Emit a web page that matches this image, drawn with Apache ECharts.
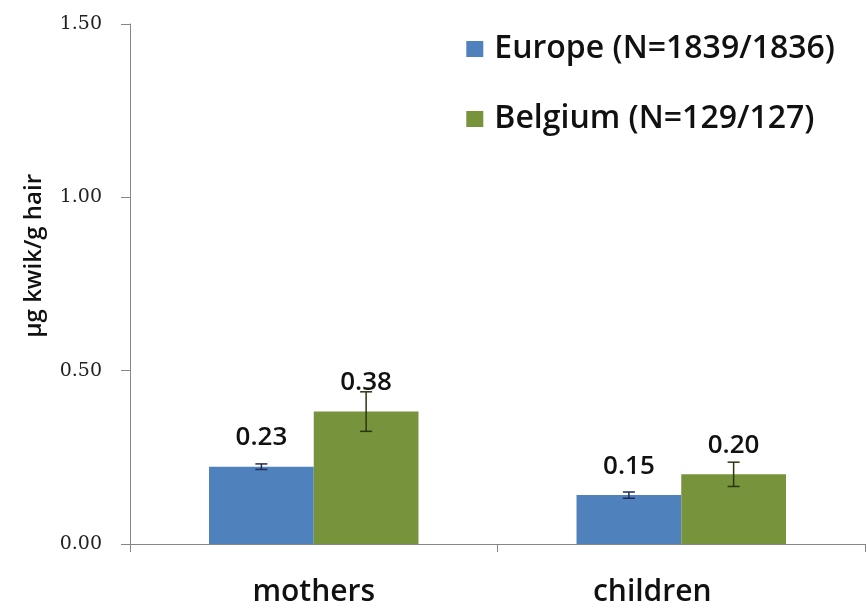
<!DOCTYPE html>
<html><head><meta charset="utf-8">
<script src="https://cdn.jsdelivr.net/npm/echarts@6/dist/echarts.min.js"></script>
<style>html,body{margin:0;padding:0;background:#fff}#c{width:867px;height:608px}</style>
</head><body><div id="c"></div>
<script>
const categories = ['mothers', 'children'];
const seriesNames = ['Europe (N=1839/1836)', 'Belgium (N=129/127)'];
const europeValues = [0.223, 0.141];
const europeErr = [0.008, 0.009];
const europeLabels = ['0.23', '0.15'];
const belgiumValues = [0.382, 0.201];
const belgiumErr = [0.057, 0.035];
const belgiumLabels = ['0.38', '0.20'];

const colors = ['#4F81BD', '#77933C'];
const errColors = ['#1F2A55', '#2B3510'];
const GAP = 0.43;

function errSeries(vals, errs, idx) {
  return {
    type: 'custom',
    z: 5,
    silent: true,
    data: vals.map((v, i) => [i, v, errs[i]]),
    renderItem: function (params, api) {
      const i = api.value(0), v = api.value(1), e = api.value(2);
      const band = api.size([1, 0])[0];
      const bw = band * (1 - GAP) / 2;
      const off = (idx === 0 ? -1 : 1) * bw / 2;
      const c = api.coord([i, v]);
      const hi = api.coord([i, v + e]);
      const lo = api.coord([i, v - e]);
      const x = c[0] + off;
      const cap = 6;
      const st = { stroke: errColors[idx], lineWidth: 1.5 };
      return { type: 'group', children: [
        { type: 'line', shape: { x1: x, y1: hi[1], x2: x, y2: lo[1] }, style: st },
        { type: 'line', shape: { x1: x - cap, y1: hi[1], x2: x + cap, y2: hi[1] }, style: st },
        { type: 'line', shape: { x1: x - cap, y1: lo[1], x2: x + cap, y2: lo[1] }, style: st }
      ]};
    }
  };
}

const lblStyle = { fontFamily: 'Open Sans', fontWeight: 600, fontSize: 26, color: '#111' };

const chart = echarts.init(document.getElementById('c'));
chart.setOption({
  animation: false,
  backgroundColor: '#fff',
  grid: { left: 130, right: 2, top: 24, bottom: 64, containLabel: false },
  legend: {
    orient: 'vertical', right: 27, top: 28, itemWidth: 17, itemHeight: 16, itemGap: 38,
    icon: 'rect', selectedMode: false,
    textStyle: { fontFamily: 'Open Sans', fontWeight: 600, fontSize: 32, color: '#111', padding: [0, 0, 0, 6] },
    data: seriesNames
  },
  xAxis: {
    type: 'category',
    data: [{ value: categories[0] }, { value: categories[1], textStyle: { padding: [0, 58, 0, 0] } }],
    axisLine: { lineStyle: { color: '#868686', width: 1 } },
    axisTick: { show: true, alignWithLabel: false, length: 8, lineStyle: { color: '#868686' } },
    axisLabel: { fontFamily: 'Open Sans', fontWeight: 600, fontSize: 30, color: '#111', margin: 33 }
  },
  yAxis: {
    type: 'value', min: 0, max: 1.5, interval: 0.5,
    splitLine: { show: false },
    axisLine: { show: true, lineStyle: { color: '#868686', width: 1 } },
    axisTick: { show: true, length: 9, lineStyle: { color: '#868686' } },
    axisLabel: { fontFamily: 'DejaVu Serif', fontSize: 19, color: '#222', margin: 28,
      formatter: v => v.toFixed(2) }
  },
  graphic: [{
    type: 'text', left: 22, top: 174, rotation: Math.PI / 2,
    style: { text: 'µg kwik/g hair', fontFamily: 'Open Sans', fontWeight: 600, fontSize: 24, fill: '#111' }
  }],
  series: [
    {
      name: seriesNames[0], type: 'bar', data: europeValues, barGap: '0%', barCategoryGap: (GAP * 100) + '%',
      itemStyle: { color: colors[0] },
      label: Object.assign({ show: true, position: 'top', distance: 16, formatter: p => europeLabels[p.dataIndex] }, lblStyle)
    },
    {
      name: seriesNames[1], type: 'bar', data: belgiumValues,
      itemStyle: { color: colors[1] },
      label: Object.assign({ show: true, position: 'top', distance: 16, formatter: p => belgiumLabels[p.dataIndex] }, lblStyle)
    },
    errSeries(europeValues, europeErr, 0),
    errSeries(belgiumValues, belgiumErr, 1)
  ]
});
</script></body></html>
